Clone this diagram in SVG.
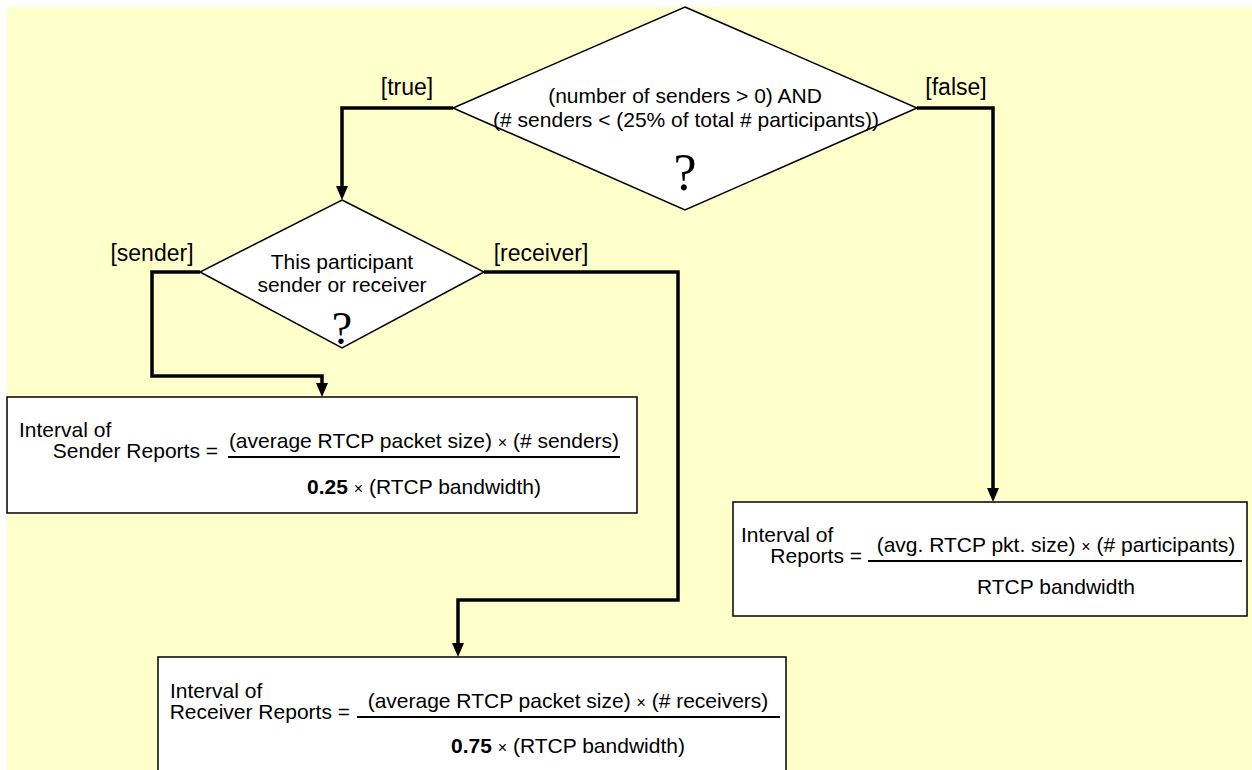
<svg xmlns="http://www.w3.org/2000/svg" width="1252" height="770" viewBox="0 0 1252 770">
<style>
text{font-family:"Liberation Sans",Arial,sans-serif;font-size:21px;fill:#000}
.q{font-family:"Liberation Serif","Times New Roman",serif;font-size:52px}
.lb{font-size:23px}
.sh{fill:#fff;stroke:#000;stroke-width:1.5}
.c{fill:none;stroke:#000;stroke-width:3.5}
.m{text-anchor:middle}
.e{text-anchor:end}
.x{font-size:16px}
.b{font-weight:bold}
.fl{stroke:#000;stroke-width:2}
</style>
<rect x="7" y="7" width="1245" height="763" fill="#FFFFCC"/>
<g id="connectors">
<polyline class="c" points="453,108 342,108 342,186"/>
<path d="M336,186 L348,186 L342,200 Z" fill="#000"/>
<polyline class="c" points="200,272 152,272 152,376 322,376 322,383"/>
<path d="M316,383 L328,383 L322,397 Z" fill="#000"/>
<polyline class="c" points="484,272 678,272 678,600 458,600 458,643"/>
<path d="M452,643 L464,643 L458,657 Z" fill="#000"/>
<polyline class="c" points="917,108 993,108 993,488"/>
<path d="M987,488 L999,488 L993,502 Z" fill="#000"/>
<text x="407" y="95" class="m lb">[true]</text>
<text x="956" y="95" class="m lb">[false]</text>
<text x="152" y="261" class="m lb">[sender]</text>
<text x="541" y="261" class="m lb">[receiver]</text>
</g>
<g id="decision1">
<polygon class="sh" points="685,7 917,108 685,210 453,108"/>
<text x="685" y="103" class="m">(number of senders &gt; 0) AND</text>
<text x="686" y="127" class="m">(# senders &lt; (25% of total # participants))</text>
<text x="685" y="190" class="m q">?</text>
</g>
<g id="decision2">
<polygon class="sh" points="342,200 484,272 342,348 200,272"/>
<text x="342" y="269" class="m">This participant</text>
<text x="342" y="292" class="m">sender or receiver</text>
<text x="342" y="344" class="m q" style="font-size:46px">?</text>
</g>
<g id="senderBox">
<rect class="sh" x="7" y="397" width="630" height="116"/>
<text x="19" y="437">Interval of</text>
<text x="218" y="458" class="e">Sender Reports =</text>
<text x="424" y="448" class="m">(average RTCP packet size) <tspan class="x">×</tspan> (# senders)</text>
<line class="fl" x1="228" y1="457" x2="620" y2="457"/>
<text x="424" y="494" class="m"><tspan class="b">0.25</tspan> <tspan class="x">×</tspan> (RTCP bandwidth)</text>
</g>
<g id="allBox">
<rect class="sh" x="733" y="502" width="514" height="114"/>
<text x="741" y="542">Interval of</text>
<text x="862" y="563" class="e">Reports =</text>
<text x="1056" y="552" class="m">(avg. RTCP pkt. size) <tspan class="x">×</tspan> (# participants)</text>
<line class="fl" x1="868" y1="561" x2="1242" y2="561"/>
<text x="1056" y="594" class="m">RTCP bandwidth</text>
</g>
<g id="receiverBox">
<rect class="sh" x="158" y="657" width="628" height="130"/>
<text x="170" y="698">Interval of</text>
<text x="350" y="719" class="e">Receiver Reports =</text>
<text x="568" y="708" class="m">(average RTCP packet size) <tspan class="x">×</tspan> (# receivers)</text>
<line class="fl" x1="357" y1="717" x2="780" y2="717"/>
<text x="568" y="753" class="m"><tspan class="b">0.75</tspan> <tspan class="x">×</tspan> (RTCP bandwidth)</text>
</g>
</svg>
